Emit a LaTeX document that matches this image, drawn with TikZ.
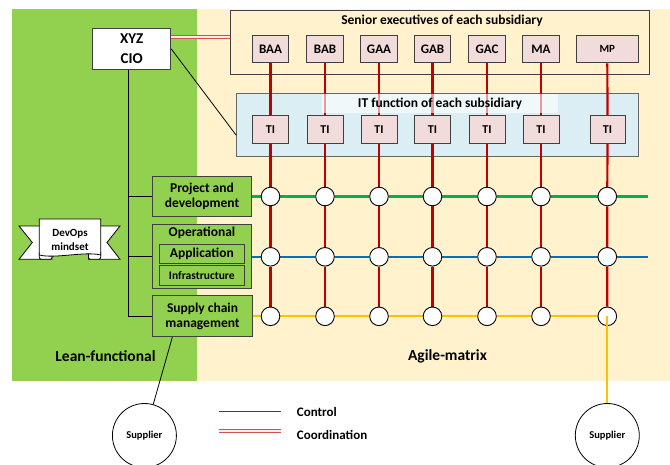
\documentclass[tikz,border=0pt]{standalone}
\usepackage{fontspec}
\setmainfont{Carlito}
\usetikzlibrary{calc}
\definecolor{lgreen}{HTML}{92D050}
\definecolor{cream}{HTML}{FFF2CC}
\definecolor{pinkb}{HTML}{F2DCDB}
\definecolor{lblue}{HTML}{DAEEF3}
\definecolor{dred}{HTML}{C00000}
\definecolor{cred}{HTML}{D0504D}
\definecolor{gline}{HTML}{00B050}
\definecolor{bline}{HTML}{0070C0}
\definecolor{yline}{HTML}{FFC000}
\definecolor{dgray}{HTML}{404040}
\pgfdeclarelayer{bg}\pgfdeclarelayer{lines}\pgfdeclarelayer{front}
\pgfsetlayers{bg,lines,main,front}
\begin{document}
\begin{tikzpicture}[x=1pt,y=-1pt,
  pbox/.style={draw=dgray, fill=pinkb, line width=1pt, inner sep=0pt, minimum height=27.5pt, font={\bfseries\fontsize{13}{15}\selectfont}},
  gbox/.style={draw=dgray, fill=lgreen, line width=1pt, inner sep=0pt, align=center, font={\bfseries\fontsize{13.5}{15.2}\selectfont}},
  junc/.style={circle, draw=black, fill=white, line width=0.9pt, minimum size=18.6pt, inner sep=0pt},
  redv/.style={dred, line width=2.2pt},
  ctrl/.style={black, line width=0.8pt},
  coordln/.style={draw=cred, line width=1pt, double=pinkb!60, double distance=1.6pt},
  colln/.style={line width=2.2pt},
  lbl/.style={inner sep=0pt, font={\bfseries\fontsize{13.5}{16}\selectfont}},
  supp/.style={circle, draw=black, line width=0.8pt, minimum size=64pt, inner sep=0pt, font={\bfseries\fontsize{10.5}{12}\selectfont}}
]
\clip (0,0) rectangle (670,464);
\begin{pgfonlayer}{bg}
  \fill[white] (0,0) rectangle (670,464);
  \fill[lgreen] (12,9) rectangle (197,381);
  \fill[cream] (197,9) rectangle (670,381);
  \node[draw=dgray, fill=cream, line width=1pt, minimum width=418.3pt, minimum height=64pt, inner sep=0pt] (senior) at (439.85,42) {};
  \node[draw=dgray!80, fill=lblue, line width=1pt, minimum width=402pt, minimum height=63.4pt, inner sep=0pt] (itbox) at (437.7,125) {};
\end{pgfonlayer}

% titles
\node[lbl] (stitle) at (442,21) {Senior executives of each subsidiary};
\node[lbl, fill=white, fill opacity=0.6, text opacity=1, minimum width=236pt, minimum height=19pt] (ittitle) at (440,103.5) {IT function of each subsidiary};

% CIO
\node[draw=dgray, fill=white, line width=1pt, minimum width=78pt, minimum height=40.3pt, inner sep=0pt, align=center, font={\bfseries\fontsize{15}{20}\selectfont}] (cio) at (131.7,48.85) {XYZ\\CIO};

% executives
\foreach \n/\x [count=\i] in {BAA/270.5, BAB/325, GAA/379, GAB/432.5, GAC/487, MA/541}
  \node[pbox, minimum width=36.5pt] (e\i) at (\x,49) {\n};
\node[pbox, minimum width=62pt, font={\bfseries\fontsize{11}{13}\selectfont}] (e7) at (607.3,49) {MP};

% TI boxes
\foreach \x [count=\i] in {270.5, 325, 379, 432.5, 487, 541}
  \node[pbox, minimum width=36pt, minimum height=28pt, font={\bfseries\fontsize{12}{14}\selectfont}] (t\i) at (\x,129.3) {TI};
\node[pbox, minimum width=35pt, minimum height=28pt, font={\bfseries\fontsize{12}{14}\selectfont}] (t7) at (607.5,129.3) {TI};

% junctions
\foreach \x [count=\i] in {270.5, 325, 379, 432.5, 487, 541, 607.3} {
  \node[junc] (g\i) at (\x,196.5) {};
  \node[junc] (b\i) at (\x,256.8) {};
  \node[junc] (y\i) at (\x,316.3) {};
}

% left boxes
\node[gbox, minimum width=99.4pt, minimum height=40pt] (proj) at (202,196.5) {Project and\\development};
\node[gbox, minimum width=99.4pt, minimum height=64pt] (op) at (202,256.8) {};
\node[lbl] (optitle) at (202,233.3) {Operational};
\node[gbox, minimum width=84.3pt, minimum height=19.3pt] (app) at (201.85,253.9) {Application};
\node[gbox, minimum width=84.3pt, minimum height=20pt, font={\bfseries\fontsize{11.5}{13}\selectfont}] (infra) at (201.85,275.9) {Infrastructure};
\node[gbox, minimum width=99.6pt, minimum height=40.7pt] (supply) at (202.5,316.3) {Supply chain\\management};

% banner
\draw[fill=white, line width=0.8pt] (52,226) -- (19,226) -- (32.3,242.5) -- (19,259.3) -- (52,259.3) -- cycle;
\draw[fill=white, line width=0.8pt] (88.5,226) -- (120,226) -- (107,242.5) -- (120,259.3) -- (88.5,259.3) -- cycle;
\draw[fill=white, line width=0.8pt, rounded corners=2pt] (39.3,252) -- (39.3,259.3) -- (52,259.3) -- (52,252);
\draw[fill=white, line width=0.8pt, rounded corners=2pt] (100.7,252) -- (100.7,259.3) -- (88.5,259.3) -- (88.5,252);
\draw[fill=white, line width=0.8pt] (39.3,255) -- (39.3,219) -- (100.7,219) -- (100.7,255) .. controls (85,251) and (55,259) .. (39.3,255) -- cycle;
\node[inner sep=0pt, align=center, font={\bfseries\fontsize{11}{14}\selectfont}] (devops) at (70,239.5) {DevOps\\mindset};

% labels
\node[inner sep=0pt, font={\bfseries\fontsize{15.5}{18}\selectfont}] (lean) at (105.5,356) {Lean-functional};
\node[inner sep=0pt, font={\bfseries\fontsize{15.5}{18}\selectfont}] (agile) at (447.5,356) {Agile-matrix};

% suppliers
\node[supp] (sup1) at (144.4,435.5) {Supplier};
\node[supp] (sup2) at (607.3,435.5) {Supplier};

% legend
\coordinate (lc1) at (218.5,411.7);
\coordinate (lc2) at (280.5,411.7);
\coordinate (ld1) at (218.5,430.8);
\coordinate (ld2) at (280.5,430.8);
\node[anchor=west, inner sep=0pt, font={\bfseries\fontsize{13}{15}\selectfont}] (lctext) at (296.7,412.3) {Control};
\node[anchor=west, inner sep=0pt, font={\bfseries\fontsize{13}{15}\selectfont}] (ldtext) at (296.7,435) {Coordination};

\begin{pgfonlayer}{lines}
  \foreach \i in {1,...,7}
    \draw[redv] (e\i) -- (t\i) -- (g\i) -- (b\i) -- (y\i);
  \coordinate (gend) at (648,196.5);
  \coordinate (bend) at (648,256.8);
  \draw[gline, colln] (proj) -- (g1) -- (g2) -- (g3) -- (g4) -- (g5) -- (g6) -- (g7) -- (gend);
  \draw[bline, colln] (op) -- (b1) -- (b2) -- (b3) -- (b4) -- (b5) -- (b6) -- (b7) -- (bend);
  \draw[yline, colln] (supply) -- (y1) -- (y2) -- (y3) -- (y4) -- (y5) -- (y6) -- (y7);
  \coordinate (tr) at ([xshift=-3.4pt]cio.south);
  \draw[ctrl] (tr) |- (supply.west);
  \draw[ctrl] (tr |- proj.west) -- (proj.west);
  \draw[ctrl] (tr |- op.west) -- (op.west);
  \draw[ctrl] (cio.east) -- ($(itbox.south west)!0.342!(itbox.north west)$);
  \coordinate (cc) at ($(cio.north east)+(0,9)$);
  \draw[coordln] (cc) -- (cc -| senior.west);
  \draw[ctrl] ($(supply.south west)!0.2!(supply.south east)$) -- (sup1);
  \draw[ctrl, black!75, line width=1.2pt] (lc1) -- (lc2);
  \draw[coordln] (ld1) -- (ld2);
\end{pgfonlayer}
\begin{pgfonlayer}{front}
  \draw[yline, colln] (y7.center) -- (sup2);
\end{pgfonlayer}
\end{tikzpicture}
\end{document}
